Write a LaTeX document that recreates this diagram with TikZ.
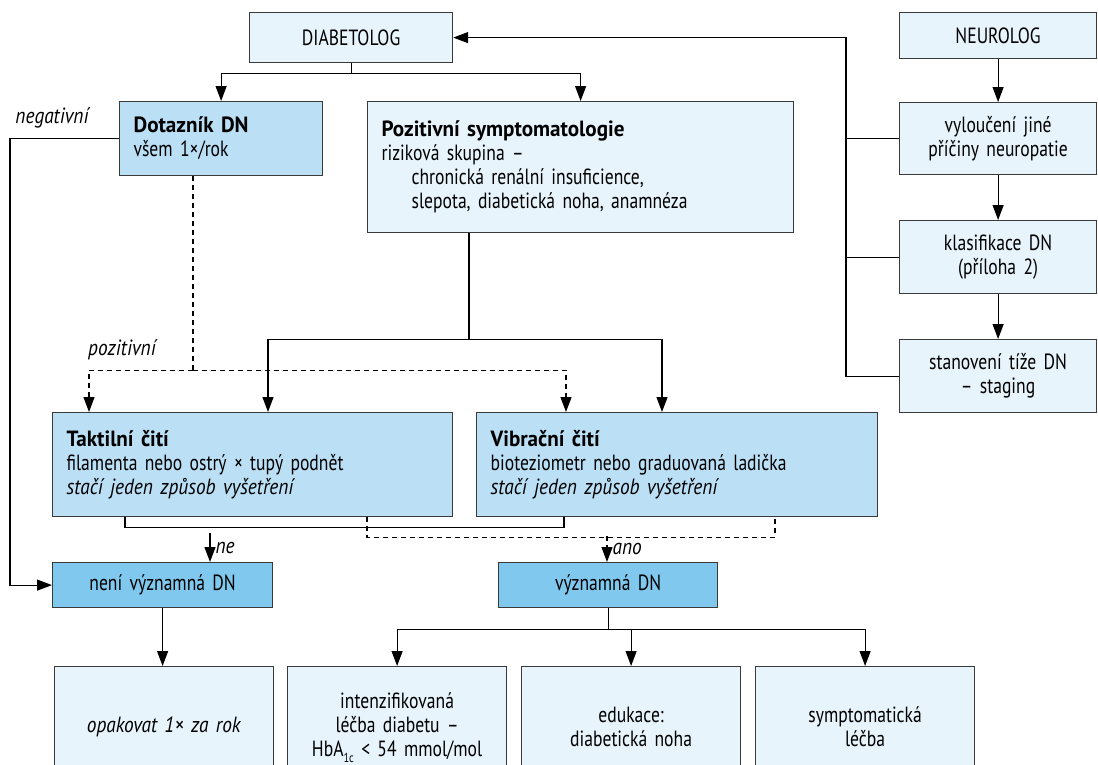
\documentclass[tikz,border=0pt]{standalone}
\usepackage{fontspec}
\setmainfont{PT Sans}[UprightFeatures={FakeStretch=0.80}, ItalicFeatures={FakeStretch=0.88}, BoldFeatures={FakeStretch=0.96}, BoldItalicFeatures={FakeStretch=0.96}]
\usetikzlibrary{arrows.meta,positioning,calc}

\definecolor{palebox}{HTML}{E7F4FC}
\definecolor{midbox}{HTML}{BBDFF5}
\definecolor{darkbox}{HTML}{80C8EE}
\definecolor{rim}{HTML}{3A3A3A}

\tikzset{
	flowbox/.style={draw=rim, line width=1.2pt, rectangle, anchor=north west, inner xsep=14pt, inner ysep=0pt, font=\fontsize{22}{24}\selectfont},
	link/.style={line width=1.2pt},
	arr/.style={-{Triangle[length=15pt,width=11pt]}},
	dashlink/.style={line width=1.2pt, dash pattern=on 5pt off 4pt},
	lbl/.style={font=\fontsize{22}{24}\selectfont\itshape, inner sep=2pt}
}

\begin{document}
\begin{tikzpicture}[x=1pt,y=-1pt]
	\useasboundingbox (0,0) rectangle (1098,764);
	\fill[white] (0,0) rectangle (1098,764);
	\clip (0,0) rectangle (1098,764);

	% top row
	\node[flowbox, fill=palebox, minimum width=203pt, minimum height=50pt, text width=175pt, align=center] (diab) at (249,12) {DIABETOLOG};
	\node[flowbox, fill=palebox, minimum width=197pt, minimum height=46pt, text width=169pt, align=center] (neuro) at (899,12) {NEUROLOG};

	% neurolog column
	\node[flowbox, fill=palebox, minimum width=197pt, minimum height=72pt, text width=169pt, align=center] (vyl) at (899,102) {vyloučení jiné\\příčiny neuropatie};
	\node[flowbox, fill=palebox, minimum width=197pt, minimum height=73pt, text width=169pt, align=center] (klas) at (899,220) {klasifikace DN\\(příloha 2)};
	\node[flowbox, fill=palebox, minimum width=197pt, minimum height=73pt, text width=169pt, align=center] (stan) at (899,339) {stanovení tíže DN\\– staging};

	% screening
	\node[flowbox, fill=midbox, minimum width=203pt, minimum height=74pt, text width=175pt, align=left] (dotaz) at (119,101) {\textbf{Dotazník DN}\\všem 1×/rok};
	\node[flowbox, fill=palebox, minimum width=426pt, minimum height=131pt, text width=398pt, align=left] (poz) at (367,101)
		{\textbf{Pozitivní symptomatologie}\\riziková skupina –\\\hspace*{30pt}chronická renální insuficience,\\\hspace*{30pt}slepota, diabetická noha, anamnéza};

	% examinations
	\node[flowbox, fill=midbox, minimum width=400pt, minimum height=104pt, text width=372pt, align=left] (takt) at (52,412)
		{\textbf{Taktilní čití}\\filamenta nebo ostrý × tupý podnět\\\textit{stačí jeden způsob vyšetření}};
	\node[flowbox, fill=midbox, minimum width=401pt, minimum height=104pt, text width=373pt, align=left] (vib) at (476,412)
		{\textbf{Vibrační čití}\\bioteziometr nebo graduovaná ladička\\\textit{stačí jeden způsob vyšetření}};

	% results
	\node[flowbox, fill=darkbox, minimum width=220pt, minimum height=45pt, text width=192pt, align=center] (neni) at (52,562) {není významná DN};
	\node[flowbox, fill=darkbox, minimum width=219pt, minimum height=45pt, text width=191pt, align=center] (vyz) at (498,562) {významná DN};

	% bottom row
	\node[flowbox, fill=palebox, minimum width=219pt, minimum height=120pt, text width=191pt, align=center] (opak) at (54,666) {\textit{opakovat 1× za rok}};
	\node[flowbox, fill=palebox, minimum width=219pt, minimum height=122pt, text width=191pt, align=center] (intz) at (287,666)
		{intenzifikovaná\\léčba diabetu –\\HbA\raisebox{-6pt}{\fontsize{13}{13}\selectfont 1c} < 54 mmol/mol};
	\node[flowbox, fill=palebox, minimum width=219pt, minimum height=120pt, text width=191pt, align=center] (edu) at (521,666) {edukace:\\diabetická noha};
	\node[flowbox, fill=palebox, minimum width=219pt, minimum height=120pt, text width=191pt, align=center] (sym) at (755,666) {symptomatická\\léčba};

	% labels
	\node[lbl] (neglbl) at (52,118) {negativní};
	\node[lbl] (poslbl) at (122,350) {pozitivní};

	% diabetolog split
	\draw[link] (diab.south) -- ++(0,10) coordinate (dsplit);
	\draw[link,arr] (dsplit) -| (dotaz.north);
	\draw[link,arr] (dsplit) -| (poz.north);

	% neurolog chain and feedback
	\draw[link,arr] (neuro) -- (vyl);
	\draw[link,arr] (vyl) -- (klas);
	\draw[link,arr] (klas) -- (stan);
	\draw[link,arr] (stan.west) -- ++(-53,0) coordinate (nback) |- (diab.east);
	\draw[link] (vyl.west) -- (vyl.west -| nback);
	\draw[link] (klas.west) -- (klas.west -| nback);

	% negative questionnaire
	\draw[link,arr] (dotaz.west) -- ++(-109,0) |- (neni.west);

	% positive questionnaire
	\draw[dashlink] ($(dotaz.south west)+(74,0)$) -- ++(0,194) coordinate (qsplit);
	\draw[dashlink,arr] (qsplit) -| ($(takt.north west)+(37,0)$);
	\draw[dashlink,arr] (qsplit) -| ($(vib.north west)+(90,0)$);

	% symptoms
	\draw[link] ($(poz.south west)+(102,0)$) -- ++(0,106) coordinate (psplit);
	\draw[link,arr] (psplit) -| ($(takt.north west)+(216,0)$);
	\draw[link,arr] (psplit) -| ($(vib.north west)+(186,0)$);

	% joins below examinations
	\draw[link] ($(takt.south west)+(73,0)$) -- ++(0,10) -| ($(vib.south west)+(88,0)$);
	\draw[dashlink] ($(takt.south west)+(315,0)$) -- ++(0,20) -| ($(vib.south west)+(299,0)$);
	\draw[link,arr] ($(neni.north west)+(158,-29)$) -- ($(neni.north west)+(158,0)$) node[lbl, midway, right=3pt] {ne};
	\draw[dashlink,arr] ($(vyz.north west)+(109,-26)$) -- ($(vyz.north west)+(109,0)$) node[lbl, midway, right=3pt] {ano};

	% outcomes
	\draw[link,arr] (neni.south) -- (neni.south |- opak.north);
	\draw[link] (vyz.south) -- ++(0,21) coordinate (vsplit);
	\draw[link,arr] (vsplit) -| (intz.north);
	\draw[link,arr] (vsplit) -| (edu.north);
	\draw[link,arr] (vsplit) -| (sym.north);
\end{tikzpicture}
\end{document}
